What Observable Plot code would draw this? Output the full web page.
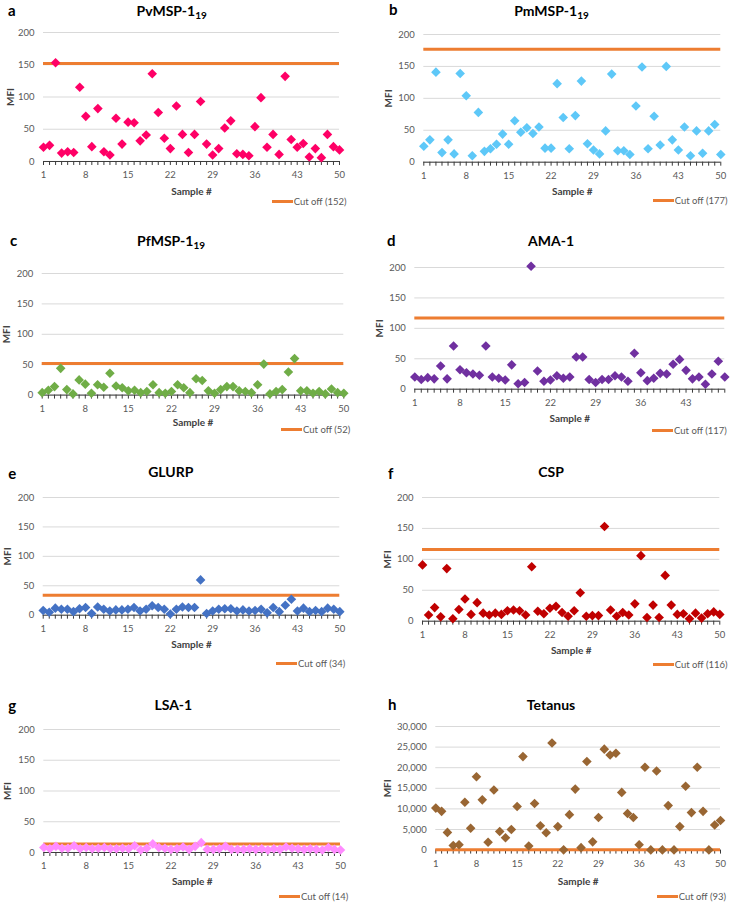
<!DOCTYPE html>
<html>
<head>
<meta charset="utf-8">
<script src="https://cdn.jsdelivr.net/npm/d3@7"></script>
<script src="https://cdn.jsdelivr.net/npm/@observablehq/plot@0.6"></script>
<style>
  html, body { margin: 0; padding: 0; background: #fff; }
  #root { position: relative; width: 732px; height: 902px; overflow: hidden; font-family: Lato, "Open Sans", sans-serif; }
  .panel-svg { position: absolute; }
  .title { position: absolute; font-weight: bold; font-size: 14px; line-height: 1; color: #000; transform: translateX(-50%); white-space: nowrap; }
  .title sub { font-size: 10px; vertical-align: -3px; line-height: 0; }
  .letter { position: absolute; font-weight: bold; font-size: 15px; line-height: 1; color: #000; }
  .legend { position: absolute; display: flex; align-items: center; height: 12px; font-size: 9.5px; color: #595959; white-space: nowrap; }
  .legend .sw { display: inline-block; width: 21px; height: 3px; background: #ED7D31; margin-right: 1px; }
</style>
</head>
<body>
<div id="root"></div>
<script>
// ---------- data ----------
const sampleNumbers = [1,2,3,4,5,6,7,8,9,10,11,12,13,14,15,16,17,18,19,20,21,22,23,24,25,26,27,28,29,30,31,32,33,34,35,36,37,38,39,40,41,42,43,44,45,46,47,48,49,50];
const xTickLabels = [1, 8, 15, 22, 29, 36, 43, 50];
const mfiTicks = [0, 50, 100, 150, 200];
const tetanusTicks = [0, 5000, 10000, 15000, 20000, 25000, 30000];

const pvMSP1 = [22,25,153,13,15,14,115,70,23,82,15,10,67,27,61,60,32,41,136,76,36,20,86,42,14,42,93,27,10,20,52,63,12,11,9,54,99,22,42,11,132,34,22,28,7,20,6,42,23,18];
const pmMSP1 = [25,35,141,15,35,13,139,104,10,78,17,21,28,44,28,65,47,54,45,55,22,22,123,70,21,73,127,29,19,13,49,138,18,18,12,88,149,21,72,27,150,35,19,55,10,49,14,49,59,12];
const pfMSP1 = [4,8,14,44,9,2,25,18,3,17,13,36,15,12,7,8,4,6,17,4,3,6,17,12,4,27,24,7,3,9,14,14,7,6,4,17,51,2,6,9,38,60,7,7,3,6,2,10,4,3];
const ama1 = [20,16,19,17,38,17,71,32,27,25,23,71,20,18,15,40,9,11,202,30,13,15,22,18,20,53,53,16,11,16,16,22,20,13,59,27,14,18,26,25,41,49,31,17,20,8,25,46,20];
const glurp = [8,5,12,10,10,6,11,13,3,14,10,7,9,9,10,13,7,10,16,13,10,2,10,14,13,13,60,3,7,10,11,11,7,9,7,8,10,4,13,6,17,27,7,12,6,8,6,12,10,6];
const csp = [91,10,22,7,85,4,19,36,11,30,13,10,13,11,17,18,17,10,88,16,12,21,24,14,8,17,46,8,9,9,153,18,8,14,10,28,106,6,26,6,74,26,11,12,4,13,5,12,15,11];
const lsa1 = [8,6,10,7,7,11,6,8,6,7,8,6,6,7,6,11,4,7,14,8,7,5,6,9,5,10,16,5,5,6,10,5,5,5,6,5,6,4,6,5,9,7,6,5,6,5,4,8,5,4];
const tetanus = [10200,9400,4300,1100,1300,11600,5300,17800,12200,1900,14600,4500,3000,5000,10600,22700,1000,11300,5900,4200,26000,5700,60,8600,14800,600,21500,2000,7900,24500,23100,23500,14000,8900,7900,1300,20100,50,19200,50,10800,50,5700,15500,9100,20100,9400,50,6100,7200];

const cutoffPv = 152, cutoffPm = 177, cutoffPf = 52, cutoffAma = 117;
const cutoffGlurp = 34, cutoffCsp = 116, cutoffLsa = 14, cutoffTetanus = 93;

// ---------- layout ----------
const ORANGE = "#ED7D31";
const diamond = {
  draw(ctx, size) {
    const r = Math.sqrt(size / Math.PI);
    ctx.moveTo(0, -r); ctx.lineTo(r, 0); ctx.lineTo(0, r); ctx.lineTo(-r, 0); ctx.closePath();
  }
};

const panels = [
  {letter:"a", title:"PvMSP-1", sub:"19", values:pvMSP1, cutoff:cutoffPv, color:"#FF0066", L:0,   x0:43,    x1:339,   yT:31.7,  yB:160.7, xlabY:191,   mfiX:10,
   titleX:171.7, titleTop:4.3, letX:8, letBase:16, legX:271.7, legY:201.7},
  {letter:"b", title:"PmMSP-1", sub:"19", values:pmMSP1, cutoff:cutoffPm, color:"#5EC8F8", L:366, x0:423.3, x1:720.3, yT:34,    yB:161.7, xlabY:191.7, mfiX:388.5,
   titleX:551.5, titleTop:4.3, letX:389, letBase:15.5, legX:652.7, legY:200.7},
  {letter:"c", title:"PfMSP-1", sub:"19", values:pfMSP1, cutoff:cutoffPf, color:"#70AD47", L:0,   x0:41.7,  x1:343.3, yT:272.7, yB:394.3, xlabY:422.3, mfiX:6,
   titleX:171, titleTop:233.6, letX:10, letBase:246.7, legX:281, legY:429.3},
  {letter:"d", title:"AMA-1", values:ama1, cutoff:cutoffAma, color:"#7030A0", L:366, x0:414.3, x1:724.3, yT:267.3, yB:389, xlabY:419, mfiX:379.3,
   titleX:551, titleTop:233.6, letX:387, letBase:246.7, legX:652, legY:430.7},
  {letter:"e", title:"GLURP", values:glurp, cutoff:cutoffGlurp, color:"#4472C4", L:0, x0:42.7, x1:339.3, yT:497.3, yB:615, xlabY:645, mfiX:7.7,
   titleX:170.8, titleTop:465, letX:8.3, letBase:479, legX:276, legY:663.3},
  {letter:"f", title:"CSP", values:csp, cutoff:cutoffCsp, color:"#C00000", L:366, x0:422, x1:719.3, yT:497.3, yB:621, xlabY:651, mfiX:386.8,
   titleX:551, titleTop:465, letX:388, letBase:479, legX:652.7, legY:664},
  {letter:"g", title:"LSA-1", values:lsa1, cutoff:cutoffLsa, color:"#FF8CFF", L:0, x0:43.3, x1:340, yT:729, yB:852, xlabY:881.7, mfiX:7.7,
   titleX:173.3, titleTop:698.3, letX:8.3, letBase:711, legX:279, legY:896},
  {letter:"h", title:"Tetanus", values:tetanus, cutoff:cutoffTetanus, color:"#996633", L:366, x0:435.3, x1:720, yT:725.7, yB:849.3, xlabY:880.7, mfiX:386.8,
   titleX:551, titleTop:697.6, letX:388, letBase:710.7, legX:656.7, legY:896, yTicks: tetanusTicks, yMax:30000, fmt: d3.format(",")}
];

const root = document.getElementById("root");

for (const p of panels) {
  const n = p.values.length;
  const samples = sampleNumbers.slice(0, n);
  const data = p.values.map((v, i) => ({sample: samples[i], mfi: v}));
  const yTicks = p.yTicks || mfiTicks;
  const yMax = p.yMax || 200;
  const top = p.yT - 14;
  const bottom = p.xlabY + 9;
  const H = bottom - top;
  const W = 366;

  const chart = Plot.plot({
    width: W,
    height: H,
    marginLeft: p.x0 - p.L,
    marginRight: p.L + W - p.x1,
    marginTop: p.yT - top,
    marginBottom: bottom - p.yB,
    x: {domain: [1, samples[n - 1]]},
    y: {domain: [0, yMax]},
    style: {fontFamily: "Lato, 'Open Sans', sans-serif", fontSize: "9.5px", background: "transparent", overflow: "visible", color: "#595959"},
    marks: [
      Plot.gridY(yTicks, {stroke: "#D9D9D9", strokeOpacity: 1, strokeWidth: 1}),
      Plot.axisY(yTicks, {tickSize: 0, tickPadding: 9, label: null, tickFormat: p.fmt || (d => String(d)), fill: "#595959"}),
      Plot.ruleY([0], {stroke: "#3A3A3A", strokeWidth: 1}),
      Plot.axisX(samples, {tickSize: 4, tickPadding: 6, label: null, stroke: "#3A3A3A", fill: "#595959",
        tickFormat: d => xTickLabels.includes(d) ? String(d) : ""}),
      Plot.ruleY([p.cutoff], {stroke: ORANGE, strokeWidth: 3}),
      Plot.dot(data, {x: "sample", y: "mfi", symbol: diamond, r: 4.8, fill: p.color, stroke: "none"}),
      Plot.text(["Sample #"], {frameAnchor: "bottom", dy: p.xlabY - p.yB, textAnchor: "middle", lineAnchor: "middle", fontWeight: "bold", fontSize: 10, fill: "#404040"}),
      Plot.text(["MFI"], {frameAnchor: "left", dx: p.mfiX - p.x0, rotate: -90, textAnchor: "middle", lineAnchor: "middle", fontWeight: "bold", fontSize: 10, fill: "#404040"})
    ]
  });
  chart.classList.add("panel-svg");
  chart.style.left = p.L + "px";
  chart.style.top = top + "px";
  root.appendChild(chart);
}

for (const p of panels) {
  const t = document.createElement("div");
  t.className = "title";
  t.style.left = p.titleX + "px";
  t.style.top = p.titleTop + "px";
  t.textContent = p.title;
  if (p.sub) {
    const s = document.createElement("sub");
    s.textContent = p.sub;
    t.appendChild(s);
  }
  root.appendChild(t);

  const l = document.createElement("div");
  l.className = "letter";
  l.style.left = p.letX + "px";
  l.style.top = (p.letBase - 13.3) + "px";
  l.textContent = p.letter;
  root.appendChild(l);

  const lg = document.createElement("div");
  lg.className = "legend";
  lg.style.left = p.legX + "px";
  lg.style.top = (p.legY - 6) + "px";
  const sw = document.createElement("span");
  sw.className = "sw";
  const tx = document.createElement("span");
  tx.textContent = "Cut off (" + p.cutoff + ")";
  lg.appendChild(sw);
  lg.appendChild(tx);
  root.appendChild(lg);
}
</script>
</body>
</html>
